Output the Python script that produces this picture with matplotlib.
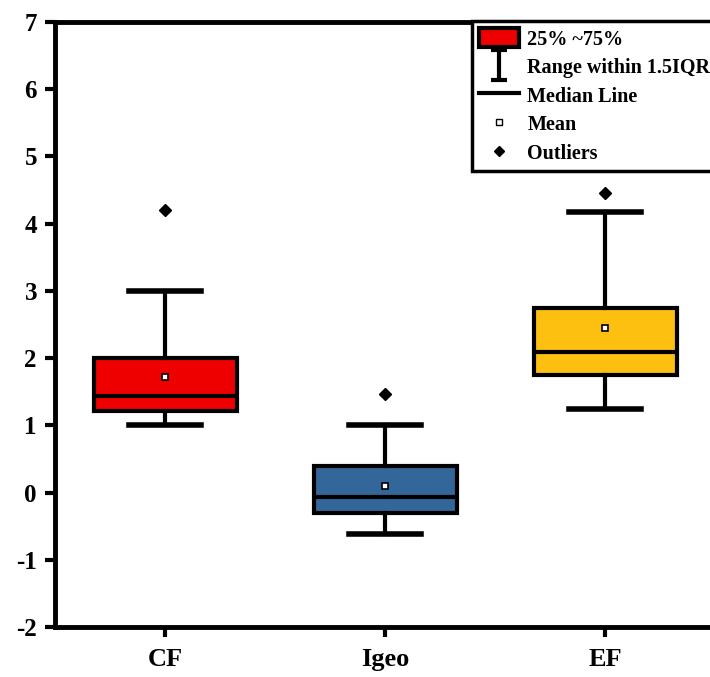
import matplotlib
matplotlib.use("Agg")
import matplotlib.pyplot as plt
from matplotlib.lines import Line2D
from matplotlib.patches import Patch
from matplotlib.path import Path

plt.rcParams['font.family'] = ['Liberation Serif', 'DejaVu Serif']
plt.rcParams['font.weight'] = 'bold'
plt.rcParams['axes.unicode_minus'] = False

categories = ['CF', 'Igeo', 'EF']
q1 = [1.21, -0.31, 1.75]
q3 = [2.0, 0.39, 2.74]
medians = [1.43, -0.06, 2.09]
means = [1.72, 0.10, 2.45]
whislo = [1.0, -0.61, 1.24]
whishi = [3.0, 1.0, 4.17]
outliers = [[4.21], [1.47], [4.46]]
colors = ['#ee0000', '#336699', '#fdc010']

stats = []
for i, name in enumerate(categories):
    stats.append(dict(label=name, q1=q1[i], q3=q3[i], med=medians[i],
                      mean=means[i], whislo=whislo[i], whishi=whishi[i],
                      fliers=outliers[i]))

fig = plt.figure(figsize=(7.1, 6.77), dpi=100)
# axes run a little past the right edge of the figure, as in the original
ax = fig.add_axes([55 / 710, 50 / 677, 682 / 710, 605 / 677])

bp = ax.bxp(stats, positions=[1, 2, 3], widths=0.65, patch_artist=True,
            showmeans=True,
            boxprops=dict(linewidth=3, edgecolor='black'),
            medianprops=dict(color='black', linewidth=3),
            whiskerprops=dict(color='black', linewidth=3),
            capprops=dict(color='black', linewidth=4),
            capwidths=0.33,
            meanprops=dict(marker='s', markersize=5, markerfacecolor='white',
                           markeredgecolor='black', markeredgewidth=1.2),
            flierprops=dict(marker='D', markersize=6, markerfacecolor='black',
                            markeredgecolor='black'))
for patch, c in zip(bp['boxes'], colors):
    patch.set_facecolor(c)

ax.set_xlim(0.5, 3.6)
ax.set_ylim(-2, 7)
ax.set_yticks(range(-2, 8))
ax.set_xticks([1, 2, 3])
ax.set_xticklabels(categories)
for s in ax.spines.values():
    s.set_linewidth(3.5)
ax.tick_params(axis='both', direction='out', length=7, width=3)
ax.tick_params(axis='y', labelsize=18, pad=6)
ax.tick_params(axis='x', labelsize=19, pad=8)
for lab in ax.get_xticklabels() + ax.get_yticklabels():
    lab.set_fontweight('bold')

# whisker symbol for legend
ibeam = Path([(-0.5, 1), (0.5, 1), (0, 1), (0, -1), (-0.5, -1), (0.5, -1)],
             [Path.MOVETO, Path.LINETO, Path.MOVETO, Path.LINETO,
              Path.MOVETO, Path.LINETO])
handles = [
    Patch(facecolor=colors[0], edgecolor='black', linewidth=3),
    Line2D([], [], linestyle='none', marker=ibeam, markersize=22,
           markeredgewidth=3, color='black'),
    Line2D([], [], color='black', linewidth=3),
    Line2D([], [], linestyle='none', marker='s', markersize=5,
           markerfacecolor='white', markeredgecolor='black'),
    Line2D([], [], linestyle='none', marker='D', markersize=5,
           color='black'),
]
labels = ['25% ~75%', 'Range within 1.5IQR', 'Median Line', 'Mean', 'Outliers']
leg = fig.legend(handles, labels, loc='upper left',
                 bbox_to_anchor=(472 / 710, 1 - 21 / 677),
                 prop=dict(family='Liberation Serif', weight='bold', size=14.5),
                 fancybox=False, framealpha=1, edgecolor='black',
                 borderpad=0.35, labelspacing=0.35, handlelength=2.0,
                 handleheight=1.1, handletextpad=0.4, borderaxespad=0)
leg.get_frame().set_linewidth(2.5)

fig.savefig('out.png', dpi=100)
